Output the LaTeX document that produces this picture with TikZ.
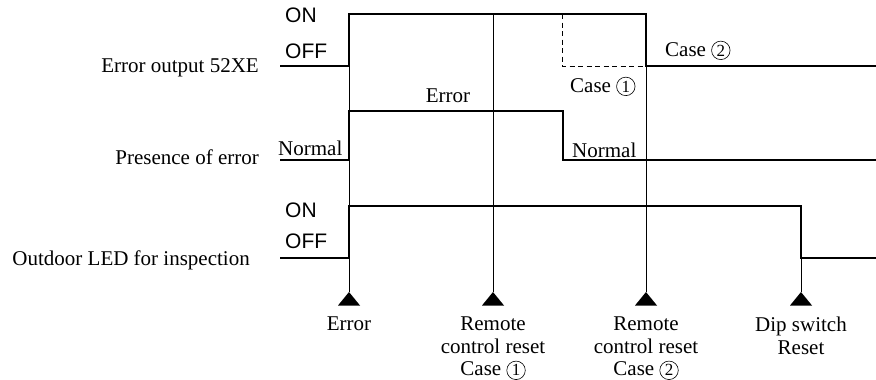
\documentclass[tikz,border=0pt]{standalone}
\usepackage{fontspec}
\setmainfont{Liberation Serif}
\newfontfamily\sansf{Liberation Sans}
\newcommand\circnum[1]{\tikz[baseline=(cnum.base)]\node[draw,circle,line width=0.6pt,inner sep=0pt,minimum size=18.5pt,font=\fontsize{17}{17}\selectfont] (cnum) {#1};}
\begin{document}
\begin{tikzpicture}[x=1pt,y=-1pt,
  sig/.style={line width=2.4pt,line join=miter},
  guide/.style={line width=1pt},
  dashsig/.style={line width=1pt,dash pattern=on 5pt off 3.5pt},
  lbl/.style={inner sep=0pt,font=\fontsize{21}{22.5}\selectfont},
  sflbl/.style={inner sep=0pt,font=\sansf\fontsize{21}{22.5}\selectfont},
  tri/.style={fill=black}]
\useasboundingbox (0,0) rectangle (876,380);

% waveform coordinates
\coordinate (a0) at (280,66);  \coordinate (a1) at (349,66);
\coordinate (a2) at (349,14);  \coordinate (a3) at (646,14);
\coordinate (a4) at (646,66);  \coordinate (a5) at (876,66);
\coordinate (d0) at (562,14);  \coordinate (d1) at (562,66);
\coordinate (b0) at (280,160); \coordinate (b1) at (349,160);
\coordinate (b2) at (349,111); \coordinate (b3) at (563,111);
\coordinate (b4) at (563,160); \coordinate (b5) at (876,160);
\coordinate (c0) at (280,258); \coordinate (c1) at (349,258);
\coordinate (c2) at (349,206); \coordinate (c3) at (801,206);
\coordinate (c4) at (801,258); \coordinate (c5) at (876,258);
\coordinate (r1) at (493,14);

% event triangles (apex)
\coordinate (t1) at (349,292);
\coordinate (t2) at (493,292);
\coordinate (t3) at (646,292);
\coordinate (t4) at (801,292);

% guide lines
\draw[guide] (a1) -- (t1);
\draw[guide] (r1) -- (t2);
\draw[guide] (a4) -- (t3);
\draw[guide] (c4) -- (t4);

% signals
\draw[sig] (a0) -- (a1) -- (a2) -- (a3) -- (a4) -- (a5);
\draw[dashsig] (d0) -- (d1) -- (a4);
\draw[sig] (b0) -- (b1) -- (b2) -- (b3) -- (b4) -- (b5);
\draw[sig] (c0) -- (c1) -- (c2) -- (c3) -- (c4) -- (c5);

% triangles
\foreach \t in {t1,t2,t3,t4}
  \fill[tri] (\t) -- ++(11,13.5) -- ++(-22,0) -- cycle;

% left labels
\node[lbl,anchor=base east] (l1) at (259,72) {Error output 52XE};
\node[lbl,anchor=base east] (l2) at (259,164) {Presence of error};
\node[lbl,anchor=base east] (l3) at (250,265) {Outdoor LED for inspection};

% ON / OFF
\node[sflbl,anchor=base west] (on1) at (285,23) {ON};
\node[sflbl,anchor=base west] (off1) at (285,58) {OFF};
\node[sflbl,anchor=base west] (on3) at (285,217.5) {ON};
\node[sflbl,anchor=base west] (off3) at (285,248.5) {OFF};

% in-diagram labels
\node[lbl,anchor=base] (err) at (448,102) {Error};
\node[lbl,anchor=base west] (n1) at (278,155) {Normal};
\node[lbl,anchor=base west] (n2) at (572,157) {Normal};
\node[lbl,anchor=base west] (case1) at (570,92) {Case \circnum{1}};
\node[lbl,anchor=base west] (case2) at (665,56) {Case \circnum{2}};

% bottom labels
\node[lbl,anchor=north,align=center] (e1) at (349,317) {Error};
\node[lbl,anchor=north,align=center] (e2) at (493,317) {Remote\\control reset\\Case \circnum{1}};
\node[lbl,anchor=north,align=center] (e3) at (646,317) {Remote\\control reset\\Case \circnum{2}};
\node[lbl,anchor=north,align=center] (e4) at (801,317) {Dip switch\\Reset};
\end{tikzpicture}
\end{document}
